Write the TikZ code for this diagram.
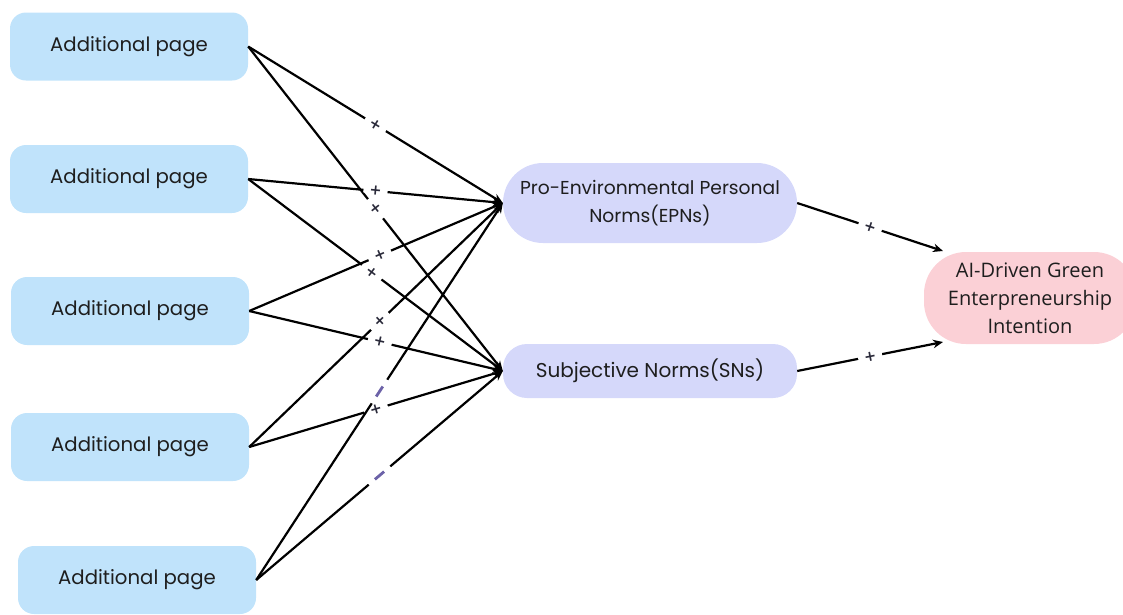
\documentclass[tikz,border=0pt]{standalone}
\usepackage{fontspec}
\setmainfont{Poppins}
\newfontfamily\aifont{Open Sans}
\newfontfamily\plfont{DejaVu Sans}
\usetikzlibrary{arrows.meta}
\definecolor{leftblue}{HTML}{C0E3FB}
\definecolor{midlav}{HTML}{D5D8FA}
\definecolor{aipink}{HTML}{FBD0D6}
\definecolor{minuscol}{HTML}{6C62A8}
\definecolor{txt}{HTML}{1E1E1E}
\definecolor{pltxt}{HTML}{2A2A3A}
\begin{document}
\begin{tikzpicture}[x=1pt,y=-1pt,
  srcbox/.style={fill=leftblue, rounded corners=16pt, minimum width=238pt, minimum height=68pt, inner sep=0pt, text=txt, font=\fontsize{19.7}{22}\selectfont},
  midbox/.style={fill=midlav, minimum width=294pt, inner sep=0pt, align=center, text=txt},
  aibox/.style={fill=aipink, rounded corners=42pt, minimum width=212pt, minimum height=92pt, inner sep=0pt, align=center, text=txt, font=\aifont\fontsize{20}{28}\selectfont},
  link/.style={line width=2.2pt, draw=black, -{Stealth[length=10pt,width=8.5pt]}},
  pl/.style={sloped, fill=white, inner xsep=6pt, inner ysep=-2pt, text=pltxt, font=\plfont\bfseries\fontsize{14.5}{14.5}\selectfont},
  mi/.style={sloped, fill=white, inner xsep=8pt, inner ysep=1pt, text=minuscol}
]
\useasboundingbox (0,0) rectangle (1123,614);
\node[srcbox] (a1) at (129,46.5) {Additional page};
\node[srcbox] (a2) at (129,179) {Additional page};
\node[srcbox] (a3) at (130,311) {Additional page};
\node[srcbox] (a4) at (130,447) {Additional page};
\node[srcbox] (a5) at (137,580) {Additional page};
\node[midbox, rounded corners=40pt, minimum height=80pt, font=\fontsize{18.7}{28}\selectfont] (epn) at (650,203) {Pro-Environmental Personal\\Norms(EPNs)};
\node[midbox, rounded corners=24pt, minimum height=54pt, font=\fontsize{20}{24}\selectfont] (sn) at (650,371) {Subjective Norms(SNs)};
\node[aibox] (ai) at (1030,298) {AI-Driven Green\\Enterpreneurship\\Intention};
\coordinate (ai1) at (943,251);
\coordinate (ai2) at (943,342);

\draw[link] (a1.east) -- node[pl]{+} (epn.west);
\draw[link] (a1.east) -- node[pl]{+} (sn.west);
\draw[link] (a2.east) -- node[pl]{+} (epn.west);
\draw[link] (a2.east) -- node[pl, pos=0.485]{+} (sn.west);
\draw[link] (a3.east) -- node[pl, pos=0.515]{+} (epn.west);
\draw[link] (a3.east) -- node[pl, pos=0.515]{+} (sn.west);
\draw[link] (a4.east) -- node[pl, pos=0.515]{+} (epn.west);
\draw[link] (a4.east) -- node[pl]{+} (sn.west);
\draw[link] (a5.east) -- node[mi]{\rule{12pt}{2.8pt}} (epn.west);
\draw[link] (a5.east) -- node[mi]{\rule{12pt}{2.8pt}} (sn.west);
\draw[link] (epn.east) -- node[pl]{+} (ai1);
\draw[link] (sn.east) -- node[pl]{+} (ai2);
\end{tikzpicture}
\end{document}
